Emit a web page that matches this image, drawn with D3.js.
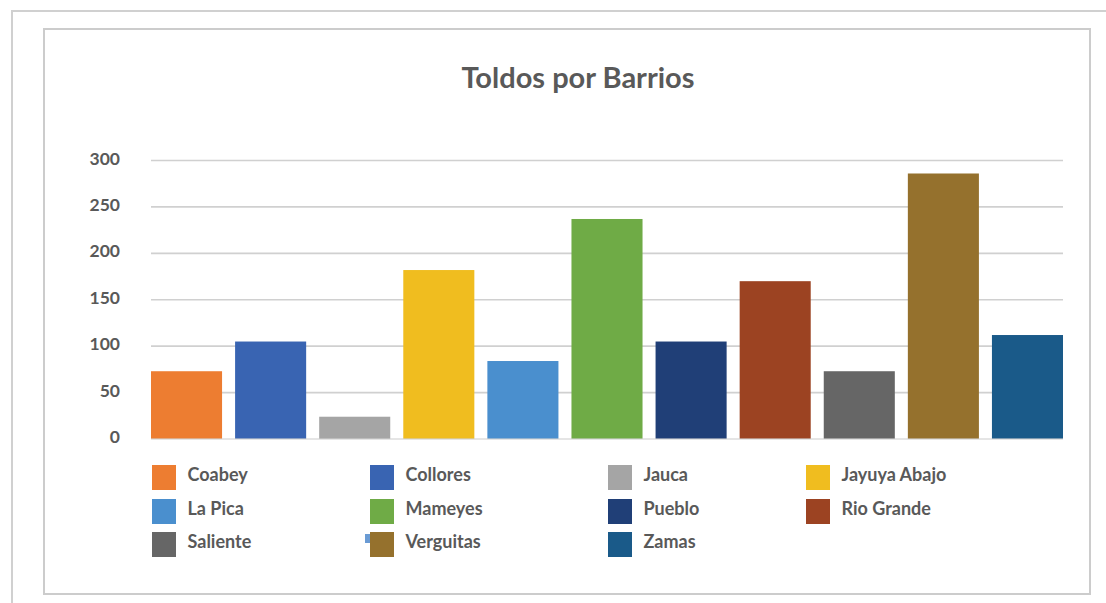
<!DOCTYPE html>
<html>
<head>
<meta charset="utf-8">
<script src="https://cdn.jsdelivr.net/npm/d3@7"></script>
<style>
  html, body { margin: 0; padding: 0; background: #fff; }
  svg { display: block; }
  text { font-family: Lato, "Open Sans", sans-serif; font-weight: 700; fill: #595959; }
</style>
</head>
<body>
<svg id="chart" width="1106" height="603"></svg>
<script>
// ---- data ----
const categories = ["Coabey", "Collores", "Jauca", "Jayuya Abajo", "La Pica", "Mameyes",
                    "Pueblo", "Rio Grande", "Saliente", "Verguitas", "Zamas"];
const values = [73, 105, 24, 182, 84, 237, 105, 170, 73, 286, 112];
const colors = ["#ED7D31", "#3964B2", "#A5A5A5", "#F0BD1F", "#4A8FCE", "#6FAB46",
                "#203F77", "#9C4322", "#666666", "#95712D", "#1A5A89"];
const yTicks = [0, 50, 100, 150, 200, 250, 300];
const titleText = "Toldos por Barrios";

// ---- layout ----
const W = 1106, H = 603;
const plot = { left: 151, right: 1063, top: 160.5, bottom: 439 };
const svg = d3.select("#chart");

// frames
svg.append("path")
  .attr("d", `M12,${H} L12,11 L${W},11`)
  .attr("fill", "none").attr("stroke", "#d0d0d0").attr("stroke-width", 2);
svg.append("rect")
  .attr("x", 44).attr("y", 29).attr("width", 1046).attr("height", 565)
  .attr("fill", "#fff").attr("stroke", "#cccccc").attr("stroke-width", 2);

// title
svg.append("text")
  .attr("x", 578).attr("y", 88)
  .attr("text-anchor", "middle")
  .style("font-size", "29px")
  .text(titleText);

// scales
const x = d3.scaleBand().domain(categories).range([plot.left, plot.right])
  .paddingInner(0.155).paddingOuter(0);
const y = d3.scaleLinear().domain([0, 300]).range([plot.bottom, plot.top]);

// gridlines
const grid = svg.append("g");
grid.selectAll("line").data(yTicks.filter(d => d > 0)).join("line")
  .attr("x1", plot.left).attr("x2", plot.right)
  .attr("y1", d => y(d)).attr("y2", d => y(d))
  .attr("stroke", "#d0d0d0").attr("stroke-width", 1.6);

// bars
svg.append("g").selectAll("rect").data(categories).join("rect")
  .attr("x", d => x(d))
  .attr("width", x.bandwidth())
  .attr("y", (d, i) => y(values[i]))
  .attr("height", (d, i) => y(0) - y(values[i]))
  .attr("fill", (d, i) => colors[i]);

// baseline
svg.append("line")
  .attr("x1", plot.left).attr("x2", plot.right)
  .attr("y1", y(0)).attr("y2", y(0))
  .attr("stroke", "#d0d0d0").attr("stroke-width", 1.6).attr("stroke-opacity", 0.75);

// y axis labels
const yAxis = d3.axisLeft(y).tickValues(yTicks).tickSize(0).tickPadding(0);
const gy = svg.append("g").attr("transform", "translate(120,-2)").call(yAxis);
gy.select(".domain").remove();
gy.selectAll("text")
  .attr("fill", "#595959")
  .style("font-family", "Lato, 'Open Sans', sans-serif")
  .style("font-weight", 700)
  .style("font-size", "17.5px");

// legend
const legendCols = [152, 370, 608, 806];
const legendRows = [465, 499, 532];
const leg = svg.append("g");
const items = leg.selectAll("g").data(categories).join("g")
  .attr("transform", (d, i) => `translate(${legendCols[i % 4]},${legendRows[Math.floor(i / 4)]})`);
// small artifact seen next to the Verguitas key
leg.append("rect")
  .attr("x", 365).attr("y", 534).attr("width", 5).attr("height", 9)
  .attr("fill", "#6A9BD4");
items.append("rect")
  .attr("width", 24).attr("height", 25)
  .attr("fill", (d, i) => colors[i]);
items.append("text")
  .attr("x", 35.5).attr("y", 16)
  .style("font-size", "18px")
  .text(d => d);
</script>
</body>
</html>
